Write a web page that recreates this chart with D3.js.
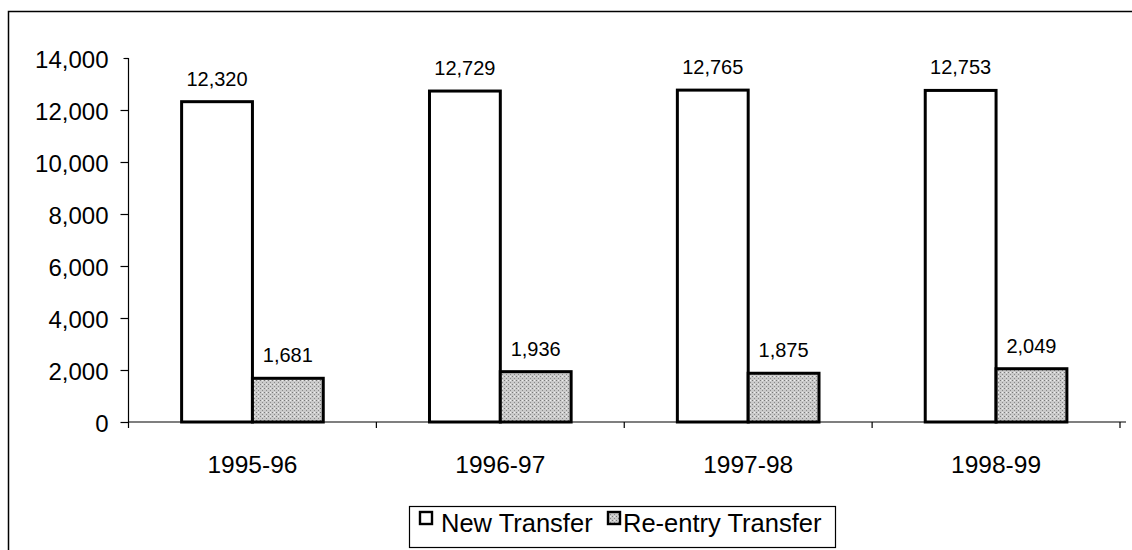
<!DOCTYPE html>
<html><head><meta charset="utf-8">
<script src="https://cdn.jsdelivr.net/npm/d3@7"></script>
<style>body{margin:0;background:#fff;}svg{display:block;font-family:"Liberation Sans",Arial,sans-serif;}</style>
</head><body>
<svg id="c" width="1132" height="550"></svg>
<script>
const categories = ["1995-96","1996-97","1997-98","1998-99"];
const seriesNames = ["New Transfer","Re-entry Transfer"];
const newTransfer = [12320,12729,12765,12753];
const reentryTransfer = [1681,1936,1875,2049];
const yTicks = [0,2000,4000,6000,8000,10000,12000,14000];

(function(){
const svg = d3.select("#c");
const defs = svg.append("defs");
const pat = defs.append("pattern").attr("id","dots").attr("patternUnits","userSpaceOnUse").attr("width",4).attr("height",4);
pat.append("rect").attr("width",4).attr("height",4).attr("fill","#cacaca");
pat.append("rect").attr("x",0).attr("y",0).attr("width",1).attr("height",1).attr("fill","#7a7a7a");
pat.append("rect").attr("x",2).attr("y",2).attr("width",1).attr("height",1).attr("fill","#8a8a8a");
pat.append("rect").attr("x",2).attr("y",0).attr("width",1).attr("height",1).attr("fill","#eeeeee");

// outer frame
svg.append("path").attr("d","M8.5,560 V11.5 H1140").attr("fill","none").attr("stroke","#000").attr("stroke-width",1.5);

const pLeft = 128.5, pRight = 1120, pTop = 58, pBottom = 422;
const x0 = d3.scaleBand().domain(categories).range([pLeft,pRight]).paddingInner(0).paddingOuter(0);
const x1 = d3.scaleBand().domain(seriesNames).range([0,x0.bandwidth()]).paddingInner(0).paddingOuter(0.75);
const y = d3.scaleLinear().domain([0,14000]).range([pBottom,pTop]);
const fmt = d3.format(",");

// y axis
const ya = svg.append("g").attr("transform",`translate(${pLeft},0)`)
  .call(d3.axisLeft(y).tickValues(yTicks).tickFormat(fmt).tickSize(8).tickPadding(12));
ya.select(".domain").attr("stroke","#000").attr("stroke-width",1.2).attr("d",`M-5,${pTop}.5H0V${pBottom}`);
ya.selectAll("text").attr("font-size",24).attr("fill","#000").attr("dy","0.4em");
ya.selectAll("line").attr("stroke","#000").attr("stroke-width",1.2);
ya.selectAll(".tick").filter(d=>d===14000).select("line").attr("x2",-4);

// x axis
const xa = svg.append("g").attr("transform",`translate(0,${pBottom})`);
xa.append("line").attr("x1",pLeft).attr("x2",pRight+6).attr("y1",0).attr("y2",0).attr("stroke","#000").attr("stroke-width",1.2);
const bounds = categories.map(c=>x0(c)).concat([x0(categories[categories.length-1])+x0.bandwidth()]);
xa.selectAll("line.t").data(bounds).join("line").attr("class","t")
  .attr("x1",d=>d).attr("x2",d=>d).attr("y1",0).attr("y2",6).attr("stroke","#000").attr("stroke-width",1.2);
xa.selectAll("text").data(categories).join("text")
  .attr("x",d=>x0(d)+x0.bandwidth()/2).attr("y",51).attr("text-anchor","middle")
  .attr("font-size",24.5).attr("fill","#000").text(d=>d);

const series = [newTransfer, reentryTransfer];
const fills = ["#fff","url(#dots)"];
categories.forEach((c,i)=>{
  seriesNames.forEach((s,j)=>{
    const v = series[j][i];
    const bx = x0(c)+x1(s);
    svg.append("rect").attr("x",bx).attr("y",y(v)).attr("width",x1.bandwidth()).attr("height",pBottom-y(v))
      .attr("fill",fills[j]).attr("stroke","#000").attr("stroke-width",3);
    svg.append("text").attr("x",bx+x1.bandwidth()/2).attr("y",y(v)-16).attr("text-anchor","middle")
      .attr("font-size",20).attr("fill","#000").text(fmt(v));
  });
});

// legend
const lg = svg.append("g");
lg.append("rect").attr("x",409.5).attr("y",506.5).attr("width",426).attr("height",41).attr("fill","#fff").attr("stroke","#000").attr("stroke-width",1.2);
const items = [{x:420,tx:441,name:seriesNames[0],fill:fills[0]},{x:608,tx:623,name:seriesNames[1],fill:fills[1]}];
items.forEach(it=>{
  lg.append("rect").attr("x",it.x).attr("y",512).attr("width",12).attr("height",12).attr("fill",it.fill).attr("stroke","#000").attr("stroke-width",2.4);
  lg.append("text").attr("x",it.tx).attr("y",532).attr("font-size",25.5).attr("fill","#000").text(it.name);
});
})();
</script>
</body></html>
